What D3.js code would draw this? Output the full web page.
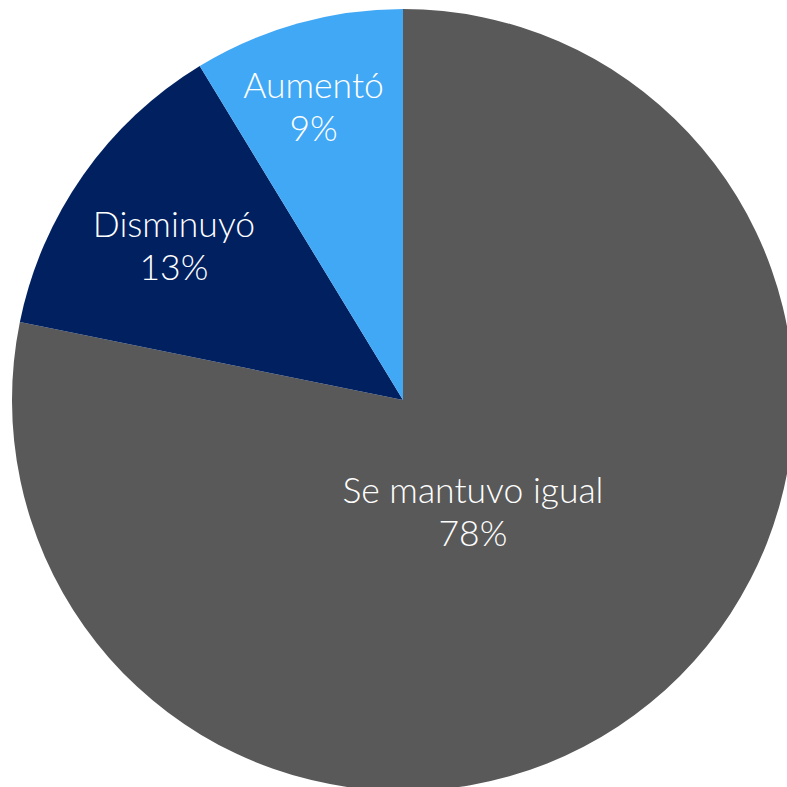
<!DOCTYPE html>
<html>
<head>
<meta charset="utf-8">
<script src="https://cdn.jsdelivr.net/npm/d3@7"></script>
<style>
html,body{margin:0;padding:0;background:#fff;overflow:hidden;}
</style>
</head>
<body>
<svg id="chart" width="787" height="787"></svg>
<script>
const categories = ["Se mantuvo igual", "Disminuyó", "Aumentó"];
const values = [78.2, 13.1, 8.7];
const colors = ["#595959", "#002060", "#41A8F5"];
const labelRadiusFactor = [0.315, 0.716, 0.81];
const labelNudge = [[-8, 10], [0, 0], [-4, 5]];

const svg = d3.select("#chart");
const cx = 403, cy = 400, r = 391;
const g = svg.append("g").attr("transform", `translate(${cx},${cy})`);

const pie = d3.pie().sort(null).value(d => d.v);
const data = categories.map((c, i) => ({c, v: values[i], i}));
const arcs = pie(data);
const arc = d3.arc().innerRadius(0).outerRadius(r);

g.selectAll("path").data(arcs).join("path")
  .attr("d", arc)
  .attr("fill", d => colors[d.data.i]);

const total = d3.sum(values);
const lg = g.selectAll("g.lbl").data(arcs).join("g").attr("class", "lbl")
  .attr("transform", d => {
    const lr = r * labelRadiusFactor[d.data.i];
    const a = d3.arc().innerRadius(lr).outerRadius(lr);
    const [x, y] = a.centroid(d);
    const [nx, ny] = labelNudge[d.data.i];
    return `translate(${x + nx},${y + ny})`;
  });
const font = "Lato, 'Open Sans', sans-serif";
lg.append("text")
  .attr("text-anchor", "middle")
  .attr("y", -2)
  .attr("fill", "#fff")
  .attr("font-family", font)
  .attr("font-weight", 300)
  .attr("font-size", 35.5)
  .text(d => d.data.c);
lg.append("text")
  .attr("text-anchor", "middle")
  .attr("y", 41)
  .attr("fill", "#fff")
  .attr("font-family", font)
  .attr("font-weight", 300)
  .attr("font-size", 35.5)
  .text(d => Math.round(d.data.v / total * 100) + "%");
</script>
</body>
</html>
